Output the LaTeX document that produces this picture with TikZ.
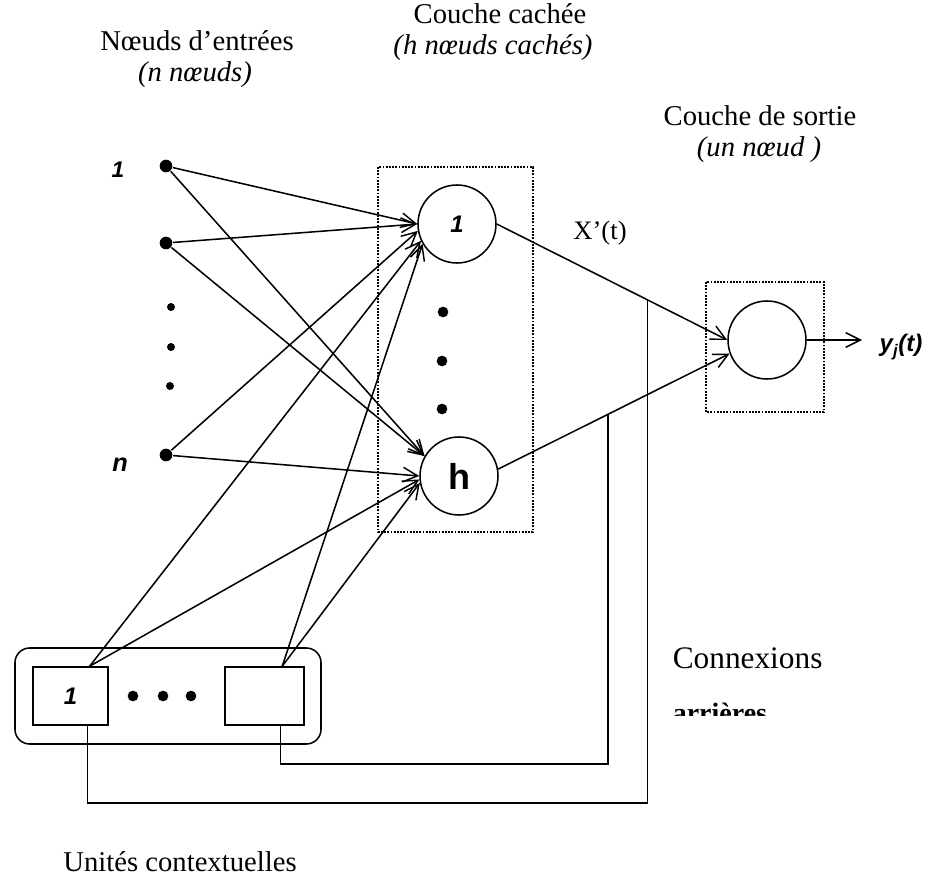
\documentclass[tikz,border=0pt]{standalone}
\usepackage{fontspec}
\setmainfont{Liberation Serif}
\newfontfamily\lsans{Liberation Sans}
\usetikzlibrary{arrows.meta,calc}
\begin{document}
\begin{tikzpicture}[x=0.75pt,y=-0.75pt, line width=1.15pt,
  conn/.style={-{Straight Barb[length=11pt,width=11pt,line width=1.1pt]}},
  dotbox/.style={draw, densely dotted, line width=1.4pt},
  neuron/.style={circle, draw, minimum size=58.5pt, inner sep=0pt},
  indot/.style={circle, fill, inner sep=0pt, minimum size=9.5pt},
  smalldot/.style={circle, fill, inner sep=0pt, minimum size=6pt},
  middot/.style={circle, fill, inner sep=0pt, minimum size=8pt},
  ctx/.style={draw, minimum height=43.5pt, inner sep=0pt},
  title/.style={font=\fontsize{21.5}{26}\selectfont, align=center, inner sep=0pt},
  ititle/.style={font=\itshape\fontsize{21.5}{26}\selectfont, align=center, inner sep=0pt},
  lab/.style={font=\lsans\bfseries\itshape\fontsize{17}{19}\selectfont, inner sep=0pt}
]
\useasboundingbox (0,0) rectangle (933,884);

% titles
\node[title]  (tin)   at (197,41)  {Nœuds d’entrées};
\node[ititle] (tin2)  at (195,75)  {(n nœuds)};
\node[title]  (thid)  at (500,14)  {Couche cachée};
\node[ititle] (thid2) at (493,48)  {(h nœuds cachés)};
\node[title]  (tout)  at (760,116) {Couche de sortie};
\node[ititle] (tout2) at (759,150) {(un nœud )};

% dotted layer boxes
\draw[dotbox] (378,167) rectangle (533,532);
\draw[dotbox] (706,282) rectangle (824,412);

% input nodes
\node[indot] (I1) at (166,166) {};
\node[indot] (I2) at (166,243) {};
\node[indot] (In) at (166,455) {};
\node[smalldot] (d1) at (171,307) {};
\node[smalldot] (d2) at (171,347) {};
\node[smalldot] (d3) at (170,386) {};
\node[lab] (l1) at (118,170) {1};
\node[lab, font=\lsans\bfseries\itshape\fontsize{19}{21}\selectfont] (ln) at (120,465) {n};

% hidden nodes
\node[neuron] (H1) at (457,224) {\lsans\bfseries\itshape\fontsize{18}{20}\selectfont 1};
\node[neuron] (Hh) at (459,476) {\lsans\bfseries\fontsize{27}{29}\selectfont h};
\node[middot] (hd1) at (443,312) {};
\node[middot] (hd2) at (442,361) {};
\node[middot] (hd3) at (442,409) {};

% output node
\node[neuron] (O) at (767,340) {};
\coordinate (yout) at (862,340);
\node[font=\lsans\bfseries\itshape\fontsize{18}{20}\selectfont, inner sep=0pt] (Y) at (901,347) {y\textsubscript{j}(t)};
\node[font=\fontsize{20}{24}\selectfont, inner sep=0pt] (X) at (600,233) {X’(t)};

% context units
\draw[rounded corners=11pt] (15,648) rectangle (321,744);
\node[ctx, minimum width=56.25pt] (C1) at (70.5,696) {\lsans\bfseries\itshape\fontsize{18}{20}\selectfont 1};
\node[ctx, minimum width=59.25pt] (C2) at (264.5,696) {};
\node[middot] (cd1) at (133,696) {};
\node[middot] (cd2) at (163,696) {};
\node[middot] (cd3) at (191,696) {};
\coordinate (C1t) at ($(C1.north east)!0.25!(C1.north west)$);
\coordinate (C2t) at ($(C2.north east)!0.28!(C2.north west)$);
\coordinate (C1b) at ($(C1.south east)!0.28!(C1.south west)$);
\coordinate (C2b) at ($(C2.south east)!0.30!(C2.south west)$);

% input -> hidden
\draw[conn] (I1) -- (H1.180);
\draw[conn] (I2) -- (H1.180);
\draw[conn] (In) -- (H1.190);
\draw[conn] (C1t) -- (H1.205);
\draw[conn] (C2t) -- (H1.210);
\draw[conn] (I1) -- (Hh.150);
\draw[conn] (I2) -- (Hh.150);
\draw[conn] (In) -- (Hh.180);
\draw[conn] (C1t) -- (Hh.185);
\draw[conn] (C2t) -- (Hh.190);

% hidden -> output
\draw[conn] (H1.east) -- (O.west);
\draw[conn] (Hh.10) -- (O.200);
\draw[conn] (O.east) -- (yout);

% feedback connections
\coordinate (f1) at ($(H1.east)!0.655!(O.west)$);
\coordinate (f2) at ($(Hh.10)!0.4756!(O.200)$);
\draw (C1b) -- ++(0,77) -| (f1);
\draw (C2b) -- ++(0,38) -| (f2);

% labels
\node[title, font=\fontsize{23.5}{28}\selectfont, anchor=west] (cx) at (672,658) {Connexions};
\begin{scope}
  \clip (600,600) rectangle (933,715);
  \node[title, font=\bfseries\fontsize{21}{26}\selectfont, anchor=base west] (arrieres) at (672,722) {arrières};
\end{scope}
\node[title] (uc) at (180,862) {Unités contextuelles};
\end{tikzpicture}
\end{document}
